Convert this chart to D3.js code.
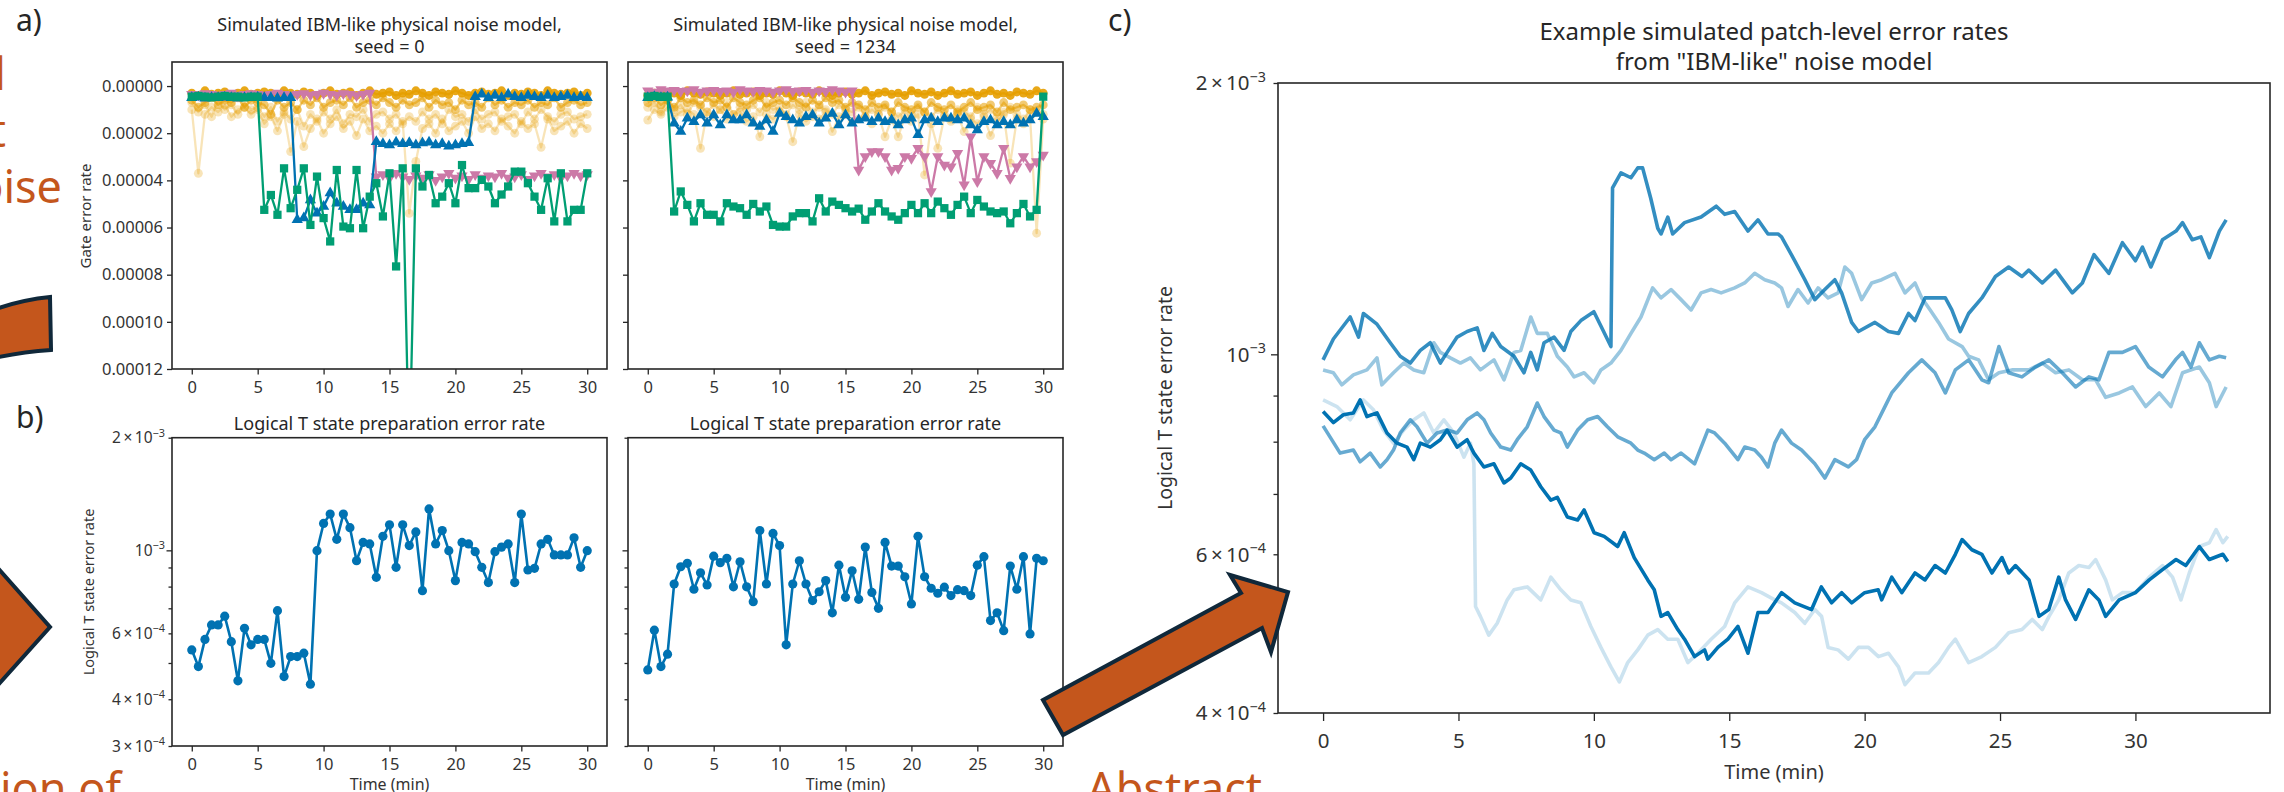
<!DOCTYPE html>
<html>
<head>
<meta charset="utf-8">
<script src="https://cdn.jsdelivr.net/npm/d3@7"></script>
<style>
  body { margin: 0; background: #fff; }
  svg { display: block; }
</style>
</head>
<body>
<svg id="fig" width="2284" height="792"></svg>
<script>
// ---- panel a : gate error rates (values in units of 1e-5) ----
var gateTime = [0,0.5,1,1.5,2,2.5,3,3.5,4,4.5,5,5.5,6,6.5,7,7.5,8,8.5,9,9.5,10,10.5,11,11.5,12,12.5,13,13.5,14,14.5,15,15.5,16,16.5,17,17.5,18,18.5,19,19.5,20,20.5,21,21.5,22,22.5,23,23.5,24,24.5,25,25.5,26,26.5,27,27.5,28,28.5,29,29.5,30];
var gateTicks = [0,2,4,6,8,10,12];

// seed = 0
var green0 = [0.45,0.42,0.45,0.48,0.45,0.42,0.45,0.45,0.48,0.45,0.45,
  5.25,4.62,5.46,3.49,5.18,4.40,3.49,5.89,3.84,5.60,
  6.59,3.56,5.96,6.03,3.56,6.03,4.69,4.12,5.53,3.70,
  7.65,3.49,16.0,3.49,4.26,3.77,4.97,4.69,4.12,4.97,
  3.35,4.33,4.33,3.98,4.26,4.97,4.60,4.26,3.63,3.63,
  4.12,4.69,5.25,3.91,5.74,3.70,5.74,5.25,5.25,3.70];
var blue0 = [0.5,0.48,0.52,0.5,0.5,0.48,0.5,0.52,0.5,0.5,0.48,0.5,0.5,0.52,0.5,0.5,
  5.67,5.6,4.83,5.39,5.11,4.54,4.97,5.11,5.25,5.25,4.97,5.04,
  2.36,2.45,2.5,2.38,2.45,2.4,2.5,2.42,2.38,2.5,2.45,2.55,2.5,2.45,2.4,
  0.45,0.35,0.5,0.4,0.5,0.35,0.45,0.5,0.4,0.45,0.5,0.4,0.5,0.45,0.4,0.5,0.45,0.5];
var pink0 = [0.35,0.38,0.32,0.35,0.4,0.35,0.3,0.38,0.35,0.32,0.35,0.38,0.35,0.3,0.35,0.4,0.35,0.32,0.38,0.35,0.3,0.35,0.38,0.32,0.35,0.4,0.35,0.3,
  3.85,3.75,3.9,3.7,3.85,3.95,3.8,3.9,3.75,4.0,3.85,3.7,3.9,3.8,3.95,3.75,3.9,3.8,3.85,3.7,3.9,3.85,3.75,3.95,3.8,3.7,3.85,3.75,3.9,3.8,3.7,3.8,3.75];
var orangeMain0 = [0.3,0.4,0.2,0.35,0.3,0.25,0.4,0.3,0.2,0.35,0.3,
  0.25,0.3,0.4,0.2,0.3,0.35,0.25,0.3,0.4,0.3,
  0.2,0.35,0.3,0.25,0.4,0.3,0.2,0.35,0.3,0.25,
  0.4,0.3,0.35,0.2,0.3,0.4,0.25,0.3,0.35,0.2,
  0.3,0.4,0.3,0.25,0.35,0.3,0.2,0.4,0.3,0.35,
  0.25,0.3,0.4,0.2,0.3,0.35,0.3,0.25,0.4,0.3];
var orangeMid0 = [0.6,0.9,0.7,0.5,0.8,0.6,0.7,0.5,0.9,0.6,0.7,
  0.8,1.2,0.6,0.9,0.7,1.0,0.6,0.8,0.5,0.9,
  0.7,0.6,0.8,0.5,0.9,0.7,0.6,0.8,0.5,0.7,
  0.9,0.6,0.8,0.7,0.5,0.9,0.6,0.8,0.7,1.0,
  0.6,0.8,0.7,0.9,0.5,0.8,0.6,0.9,0.7,0.8,
  0.6,0.9,0.7,0.8,0.5,0.9,0.7,0.6,0.8,0.7];
var orangeFaint0 = [1.0,3.7,1.2,0.9,1.1,0.8,1.3,1.0,0.9,1.2,1.0,
  1.6,1.3,1.9,1.2,2.78,1.5,2.57,1.8,1.4,2.0,
  1.6,1.3,1.8,1.5,2.1,1.4,1.9,1.7,2.0,1.6,
  1.9,1.5,5.4,3.2,1.8,1.6,2.0,1.4,1.9,1.7,
  1.5,2.0,1.3,1.8,1.6,1.9,1.4,1.7,2.0,1.5,
  1.8,1.6,2.6,1.4,1.9,1.7,1.5,2.0,1.6,1.8];
var orangeFaint0b = [0.7,1.1,0.8,1.3,0.6,1.0,0.8,1.2,0.7,1.0,0.9,
  1.3,0.9,1.5,1.1,1.4,1.0,1.7,1.2,1.5,1.1,
  1.4,1.0,1.6,1.2,1.3,1.0,1.5,1.2,1.1,1.4,
  1.2,1.6,1.3,1.5,1.1,1.4,1.2,1.6,1.0,1.3,
  1.2,1.5,1.0,1.4,1.2,1.1,1.5,1.3,1.2,1.6,
  1.1,1.4,1.0,1.3,1.5,1.2,1.1,1.4,1.3,1.2];

// seed = 1234
var green1234 = [0.45,0.42,0.45,0.45,
  5.32,4.47,5.04,5.74,4.97,5.46,5.46,5.74,4.97,5.11,
  5.18,5.46,5.0,5.32,5.11,5.89,5.96,5.96,5.53,5.39,
  5.39,5.74,4.76,5.32,4.90,5.04,5.18,5.32,5.2,5.67,
  5.32,4.97,5.32,5.53,5.67,5.39,5.04,5.39,4.97,5.39,
  4.90,5.18,5.46,5.04,4.69,5.39,4.83,5.11,5.32,5.39,
  5.32,5.82,5.39,5.0,5.53,5.25,
  0.45];
var blue1234 = [0.5,0.45,0.5,0.48,
  1.58,1.93,1.37,1.51,1.23,1.58,1.23,1.65,1.23,1.44,
  1.44,1.23,1.58,1.72,1.44,1.93,1.16,1.30,1.44,1.58,
  1.30,1.23,1.58,1.37,1.16,1.65,1.23,1.58,1.44,1.37,
  1.51,1.37,1.51,1.44,1.65,1.44,1.37,2.07,1.44,1.37,
  1.51,1.37,1.37,1.44,1.37,1.65,1.86,1.51,1.44,1.65,
  1.51,1.65,1.44,1.58,1.44,1.16,1.30];
var pink1234 = [0.2,0.25,0.15,0.2,0.18,0.22,0.2,0.15,0.25,0.2,0.18,0.22,0.2,0.25,0.15,0.2,0.22,0.18,0.2,0.25,0.2,0.15,0.22,0.2,0.18,0.25,0.2,0.22,0.15,0.2,0.25,0.2,
  3.56,2.99,2.78,2.78,2.99,3.56,3.49,2.99,3.06,2.64,
  2.99,4.47,2.99,3.35,3.42,2.85,4.19,2.15,4.05,2.99,
  3.27,3.70,2.64,3.91,3.42,2.99,3.42,3.2,2.92];
var orangeMain1234 = [0.4,0.3,0.25,0.35,0.3,0.4,0.2,0.3,0.35,0.25,0.3,
  0.4,0.3,0.2,0.35,0.3,0.25,0.4,0.3,0.35,0.2,
  0.3,0.4,0.25,0.3,0.35,0.2,0.3,0.4,0.3,0.25,
  0.35,0.3,0.2,0.4,0.3,0.25,0.35,0.3,0.4,0.2,
  0.3,0.35,0.25,0.4,0.3,0.2,0.35,0.3,0.25,0.4,
  0.3,0.2,0.35,0.3,0.4,0.25,0.3,0.35,0.2,0.3];
var orangeMid1234 = [0.7,0.5,0.8,0.6,0.9,0.5,0.7,0.6,0.8,0.5,0.7,
  0.6,0.9,0.5,0.7,0.8,0.6,0.5,0.9,0.7,0.6,
  0.8,0.5,0.7,0.9,0.6,0.8,0.5,0.7,0.6,0.9,
  0.7,0.8,1.0,0.7,0.9,0.8,1.1,0.7,0.9,1.0,
  0.8,1.1,0.7,0.9,1.0,0.8,1.1,0.9,0.7,1.0,
  0.9,0.8,1.1,0.7,1.0,0.9,0.8,1.0,0.9,0.8];
var orangeFaint1234 = [1.44,1.0,1.2,0.9,1.3,1.1,1.0,1.2,2.64,1.1,1.3,
  1.0,1.4,1.2,1.1,1.5,1.3,2.15,1.2,1.4,1.1,
  1.3,2.36,1.2,1.5,1.3,1.4,1.1,1.93,1.3,1.2,
  1.5,1.4,1.3,1.6,1.2,2.15,1.4,2.15,1.3,1.5,
  1.2,3.77,1.6,2.64,1.3,1.5,1.2,1.93,1.4,1.6,
  1.3,2.1,1.5,1.2,3.27,1.4,1.6,1.3,6.24,1.4];
var orangeFaint1234b = [0.9,0.7,1.1,0.6,1.0,0.8,1.2,0.7,0.9,1.1,0.8,
  1.0,0.7,1.2,0.9,1.0,0.8,1.1,0.7,1.0,0.9,
  1.2,0.8,1.0,0.7,1.1,0.9,1.0,1.2,0.8,1.0,
  1.1,0.9,1.3,1.0,1.2,0.9,1.1,1.3,1.0,1.2,
  0.9,1.1,1.3,1.0,1.2,1.4,1.0,1.1,1.3,0.9,
  1.2,1.0,1.3,1.1,0.9,1.2,1.4,1.0,1.1,1.2];

// ---- panel b : logical T state error rate (units of 1e-4) ----
var tState0 = [5.42,4.89,5.78,6.32,6.32,6.67,5.70,4.48,6.19,5.59,
  5.78,5.78,4.99,6.90,4.60,5.20,5.20,5.31,4.39,9.98,
  11.8,12.5,10.7,12.5,11.5,9.38,10.5,10.4,8.47,10.9,
  11.7,9.01,11.7,10.3,11.2,7.80,12.9,10.4,11.3,9.98,
  8.30,10.5,10.4,9.92,9.01,8.20,9.92,10.2,10.4,8.20,
  12.5,8.86,8.95,10.4,10.7,9.72,9.72,9.72,10.8,9.01,
  9.98];
var tState1234 = [4.79,6.12,4.89,5.28,8.13,9.04,9.23,7.87,8.71,8.08,
  9.65,9.27,9.52,7.99,9.32,7.99,7.29,11.3,8.13,11.1,
  10.3,5.59,8.13,9.38,8.13,7.34,7.75,8.30,6.81,9.13,
  7.49,8.82,7.40,10.2,7.72,7.00,10.5,9.08,9.08,8.50,
  7.19,10.9,8.50,7.92,7.68,7.97,7.57,7.85,7.80,7.57,
  9.13,9.62,6.49,6.81,6.10,9.08,7.87,9.62,5.98,9.52,
  9.38];

// ---- panel c : patch-level error rates (units of 1e-4) ----
var patch1Time = [0,0.38,1.0,1.31,1.49,1.99,2.48,2.85,3.22,3.59,3.96,4.33,4.58,4.95,5.32,5.69,5.94,6.25,6.56,7.05,7.42,7.67,7.91,8.16,8.53,8.9,9.15,9.52,10.0,10.26,10.63,10.69,11.0,11.37,11.62,11.8,12.1,12.36,12.48,12.73,12.91,13.35,13.96,14.52,14.83,15.2,15.69,16.06,16.43,16.8,16.93,17.42,17.79,18.16,18.53,18.9,19.15,19.52,19.77,20.38,20.88,21.25,21.62,21.86,22.23,22.98,23.22,23.53,23.84,24.33,24.83,25.32,25.81,26.06,26.56,27.05,27.67,28.04,28.47,29.02,29.52,30.0,30.26,30.57,31.0,31.5,31.74,32.1,32.42,32.73,33.1,33.35];
var patch1Rate = [9.86,10.4,11.0,10.45,11.1,10.8,10.3,9.95,9.78,10.1,10.3,9.78,10.05,10.45,10.6,10.7,10.1,10.55,10.2,9.95,9.54,10.05,9.61,10.3,10.45,10.1,10.6,10.9,11.15,10.75,10.2,15.3,15.9,15.7,16.1,16.1,14.9,13.8,13.6,14.2,13.6,14.0,14.2,14.6,14.3,14.4,13.7,14.1,13.6,13.6,13.5,12.7,12.1,11.5,11.8,12.1,11.7,10.85,10.6,10.85,10.6,10.55,11.1,10.9,11.55,11.55,11.2,10.6,11.1,11.55,12.2,12.5,12.2,12.4,12.0,12.4,11.7,12.0,12.9,12.3,13.3,12.7,13.15,12.5,13.4,13.7,14.0,13.4,13.5,12.8,13.7,14.1];
var patch2Time = [0,0.38,0.69,1.12,1.62,1.99,2.17,2.6,2.98,3.35,3.72,4.09,4.33,4.7,5.07,5.44,5.81,6.31,6.68,7.05,7.3,7.67,7.91,8.28,8.65,9.02,9.27,9.64,10.0,10.26,10.63,11.0,11.37,11.74,12.17,12.48,12.85,13.22,13.59,13.96,14.33,14.7,15.2,15.57,15.94,16.31,16.68,16.93,17.17,17.54,17.91,18.28,18.65,19.02,19.27,19.52,19.89,20.26,20.63,21.12,21.49,21.86,22.11,22.42,22.73,23.1,23.6,23.84,24.21,24.58,24.96,25.44,26.07,26.56,27.05,27.54,28.04,28.53,28.9,29.4,29.89,30.38,30.88,31.31,31.74,32.36,32.73,32.98,33.35];
var patch2Rate = [9.61,9.54,9.25,9.49,9.61,9.91,9.25,9.54,9.78,9.61,9.54,10.3,10.05,9.91,9.78,9.91,9.61,9.86,9.37,10.05,10.1,11.0,10.55,10.55,9.95,9.68,9.44,9.54,9.3,9.61,9.78,10.1,10.55,11.0,11.85,11.55,11.8,11.5,11.2,11.7,11.8,11.7,11.85,12.0,12.3,12.1,12.0,11.85,11.3,11.8,11.4,11.85,11.55,11.7,12.5,12.3,11.5,12.0,12.1,12.3,11.7,12.0,11.55,11.2,10.85,10.4,10.2,9.95,9.86,9.37,9.54,9.61,9.61,9.78,9.54,9.61,9.37,9.37,8.96,9.06,9.2,8.75,9.06,8.75,9.54,9.68,9.3,8.75,9.2];
var patch3Time = [0,0.63,1.12,1.37,1.74,2.11,2.36,2.6,2.85,3.22,3.47,3.84,4.21,4.58,4.95,5.32,5.69,5.94,6.19,6.56,6.93,7.17,7.54,7.91,8.16,8.53,8.78,9.02,9.4,9.77,10.14,10.5,10.88,11.37,11.62,11.86,12.23,12.6,12.85,13.22,13.72,14.21,14.46,14.83,15.32,15.57,15.94,16.19,16.43,16.68,16.93,17.3,17.67,18.16,18.53,18.9,19.4,19.7,20.0,20.38,20.75,21.0,21.62,22.11,22.6,22.98,23.35,23.84,24.33,24.58,24.96,25.32,25.81,26.31,26.8,27.3,27.79,28.28,28.65,29.02,29.52,30.0,30.49,31.0,31.48,31.74,32.05,32.36,32.73,33.1,33.35];
var patch3Rate = [8.33,7.77,7.83,7.6,7.77,7.5,7.64,7.83,8.18,8.46,8.31,7.97,8.18,8.24,8.18,8.46,8.61,8.46,8.18,7.89,7.83,8.04,8.31,8.83,8.53,8.24,8.18,7.89,8.24,8.46,8.53,8.31,8.1,7.97,7.83,7.77,7.64,7.77,7.64,7.77,7.56,8.24,8.18,7.97,7.64,7.89,7.83,7.69,7.5,7.97,8.24,7.97,7.83,7.56,7.29,7.64,7.5,7.64,8.04,8.31,8.75,9.06,9.54,9.86,9.54,9.06,9.61,9.86,9.37,9.3,10.2,9.54,9.44,9.68,9.86,9.54,9.2,9.44,9.37,10.05,10.05,10.2,9.68,9.44,9.86,10.05,9.68,10.3,9.86,9.95,9.91];
var patch4Time = [0,0.38,0.75,1.12,1.37,1.62,1.99,2.36,2.73,3.1,3.35,3.59,3.96,4.33,4.58,4.95,5.32,5.57,5.94,6.31,6.68,6.93,7.3,7.67,8.04,8.41,8.65,9.02,9.4,9.64,10.01,10.38,10.88,11.12,11.49,11.99,12.23,12.48,12.73,13.1,13.35,13.72,14.09,14.21,14.58,14.95,15.32,15.69,16.06,16.43,16.93,17.42,18.04,18.4,18.78,19.15,19.52,20.0,20.5,20.63,21.0,21.37,21.86,22.23,22.6,22.98,23.35,23.6,23.96,24.33,24.7,25.07,25.32,25.57,26.07,26.44,26.8,27.17,27.42,27.79,28.28,28.65,28.9,29.4,30.0,30.51,31.0,31.5,31.86,32.36,32.73,33.23,33.41];
var patch4Rate = [8.64,8.4,8.57,8.61,8.9,8.53,8.61,8.18,7.97,7.89,7.64,7.97,7.89,8.04,8.24,7.89,8.04,7.77,7.5,7.56,7.2,7.29,7.56,7.44,7.13,6.89,6.94,6.6,6.55,6.72,6.34,6.28,6.12,6.34,5.95,5.62,5.48,5.12,5.17,4.95,4.83,4.62,4.7,4.59,4.73,4.83,4.99,4.66,5.17,5.17,5.44,5.3,5.21,5.52,5.3,5.44,5.3,5.44,5.48,5.34,5.66,5.44,5.72,5.62,5.83,5.72,6.0,6.23,6.07,6.0,5.72,5.95,5.72,5.83,5.62,5.12,5.21,5.66,5.34,5.08,5.48,5.34,5.12,5.34,5.44,5.62,5.77,5.92,5.83,6.12,5.92,6.0,5.89];
var patch5Time = [0,0.51,1.0,1.49,1.86,2.23,2.6,2.98,3.35,3.72,4.09,4.46,4.83,5.2,5.44,5.57,5.63,5.81,6.12,6.43,6.8,7.05,7.54,8.04,8.41,8.78,9.15,9.52,9.89,10.26,10.63,10.94,11.25,11.62,11.99,12.36,12.73,13.1,13.47,13.84,14.33,14.83,15.2,15.69,16.19,16.68,16.93,17.42,17.79,18.16,18.41,18.65,19.02,19.4,19.77,20.14,20.51,20.88,21.25,21.49,21.86,22.36,22.73,23.1,23.35,23.84,24.33,24.83,25.32,25.81,26.19,26.56,26.81,27.17,27.54,27.91,28.28,28.53,28.9,29.15,29.52,30.0,30.51,31.0,31.37,31.68,31.99,32.36,32.73,32.98,33.23,33.41];
var patch5Rate = [8.9,8.75,8.46,8.9,8.68,8.24,7.97,8.24,8.46,8.61,8.18,8.46,8.18,7.69,7.97,7.56,5.25,5.12,4.88,5.03,5.34,5.48,5.52,5.34,5.66,5.48,5.34,5.3,4.99,4.73,4.5,4.33,4.55,4.7,4.88,4.95,4.83,4.83,4.55,4.66,4.83,4.99,5.3,5.52,5.44,5.34,5.3,5.17,5.03,5.21,5.12,4.73,4.7,4.59,4.73,4.73,4.62,4.66,4.5,4.3,4.43,4.43,4.55,4.73,4.83,4.55,4.62,4.73,4.91,4.95,5.08,4.95,5.12,5.34,5.72,5.83,5.8,5.92,5.62,5.34,5.44,5.44,5.66,5.83,5.66,5.34,5.72,6.12,6.18,6.39,6.18,6.28];

var timeTicks = [0,5,10,15,20,25,30];

var FONT = '"Noto Sans", "Open Sans", sans-serif';
var INK = "#262626";
var ORANGE = "#E69F00", BLUE = "#0072B2", PINK = "#CC79A7", GREEN = "#009E73";
var SLIDE = "#C4561C", NAVY = "#10283a";

var svg = d3.select("#fig").attr("font-family", FONT);
svg.append("rect").attr("width", 2284).attr("height", 792).attr("fill", "#fff");

function styleAxis(g, size) {
  g.select(".domain").remove();
  g.selectAll(".tick line").attr("stroke", INK).attr("stroke-width", 1.3);
  g.selectAll(".tick text").attr("fill", "#333").attr("font-size", size).attr("font-family", FONT);
}

function drawFrame(g, b) {
  g.append("rect")
    .attr("x", b.x0).attr("y", b.y0)
    .attr("width", b.x1 - b.x0).attr("height", b.y1 - b.y0)
    .attr("fill", "none").attr("stroke", INK).attr("stroke-width", 1.6);
}

function clipFor(id, b) {
  svg.append("clipPath").attr("id", id).append("rect")
    .attr("x", b.x0).attr("y", b.y0)
    .attr("width", b.x1 - b.x0).attr("height", b.y1 - b.y0);
  return "url(#" + id + ")";
}

function sciLabel(text, v, size) {
  var e = Math.floor(Math.log10(v) + 1e-9);
  var m = Math.round(v / Math.pow(10, e));
  text.append("tspan").text((m === 1 ? "" : m + "\u2009\u00d7\u2009") + "10");
  text.append("tspan").attr("dy", -0.42 * size).attr("font-size", size * 0.7).text("\u2212" + Math.abs(e));
}

// ---------- panel a ----------
function gatePanel(id, b, title, showLabels, s) {
  var x = d3.scaleLinear().domain([-1.5, 31.5]).range([b.x0, b.x1]);
  var y = d3.scaleLinear().domain([-1.02, 12]).range([b.y0, b.y1]);
  var g = svg.append("g");
  var plot = g.append("g").attr("clip-path", clipFor(id, b));

  var series = [
    {v: s.faintB, c: ORANGE, a: 0.28, shape: d3.symbolCircle, size: 62},
    {v: s.faint, c: ORANGE, a: 0.28, shape: d3.symbolCircle, size: 62},
    {v: s.mid, c: ORANGE, a: 0.55, shape: d3.symbolCircle, size: 62},
    {v: s.main, c: ORANGE, a: 0.9, shape: d3.symbolCircle, size: 62},
    {v: s.pink, c: PINK, a: 1, shape: d3.symbolTriangle, size: 55, down: true},
    {v: s.blue, c: BLUE, a: 1, shape: d3.symbolTriangle, size: 55},
    {v: s.green, c: GREEN, a: 1, shape: d3.symbolSquare, size: 68}
  ];
  var line = d3.line().x(function(d){ return x(d[0]); }).y(function(d){ return y(d[1]); });
  series.forEach(function(ser) {
    var pts = gateTime.map(function(t, i){ return [t, ser.v[i]]; });
    plot.append("path").datum(pts).attr("d", line)
      .attr("fill", "none").attr("stroke", ser.c).attr("stroke-width", 2.3)
      .attr("stroke-opacity", ser.a).attr("stroke-linejoin", "round");
    plot.selectAll(null).data(pts).enter().append("path")
      .attr("transform", function(d){ return "translate(" + x(d[0]) + "," + y(d[1]) + ")" + (ser.down ? " rotate(180)" : ""); })
      .attr("d", d3.symbol().type(ser.shape).size(ser.size))
      .attr("fill", ser.c).attr("fill-opacity", ser.a);
  });

  g.append("g").attr("transform", "translate(0," + b.y1 + ")")
    .call(d3.axisBottom(x).tickValues(timeTicks).tickSize(5.5).tickPadding(7))
    .call(styleAxis, 16.5);
  g.append("g").attr("transform", "translate(" + b.x0 + ",0)")
    .call(d3.axisLeft(y).tickValues(gateTicks).tickSize(5).tickPadding(4)
      .tickFormat(function(v){ return showLabels ? d3.format(".5f")(v * 1e-5) : ""; }))
    .call(styleAxis, 16.5);
  drawFrame(g, b);

  var cx = (b.x0 + b.x1) / 2;
  g.append("text").attr("x", cx).attr("y", 31).attr("text-anchor", "middle")
    .attr("font-size", 18).attr("fill", INK).text(title[0]);
  g.append("text").attr("x", cx).attr("y", 53).attr("text-anchor", "middle")
    .attr("font-size", 18).attr("fill", INK).text(title[1]);
  if (showLabels) {
    g.append("text").attr("transform", "translate(91,216) rotate(-90)")
      .attr("text-anchor", "middle").attr("font-size", 15).attr("fill", "#333")
      .text("Gate error rate");
  }
}

gatePanel("clipA0", {x0: 172, x1: 607, y0: 62, y1: 369},
  ["Simulated IBM-like physical noise model,", "seed = 0"], true,
  {green: green0, blue: blue0, pink: pink0, main: orangeMain0, mid: orangeMid0, faint: orangeFaint0, faintB: orangeFaint0b});
gatePanel("clipA1", {x0: 628, x1: 1063, y0: 62, y1: 369},
  ["Simulated IBM-like physical noise model,", "seed = 1234"], false,
  {green: green1234, blue: blue1234, pink: pink1234, main: orangeMain1234, mid: orangeMid1234, faint: orangeFaint1234, faintB: orangeFaint1234b});

// ---------- log axis helpers ----------
function logAxis(g, b, y, major, minor, labelled, showLabels, size, majLen, minLen, gap) {
  g.append("g").attr("transform", "translate(" + b.x0 + ",0)")
    .call(d3.axisLeft(y).tickValues(major).tickSize(majLen).tickFormat(function(){ return ""; }))
    .call(styleAxis, size);
  g.append("g").attr("transform", "translate(" + b.x0 + ",0)")
    .call(d3.axisLeft(y).tickValues(minor).tickSize(minLen).tickFormat(function(){ return ""; }))
    .call(styleAxis, size);
  if (!showLabels) return;
  labelled.forEach(function(v) {
    var t = g.append("text").attr("x", b.x0 - gap).attr("y", y(v) + size * 0.36)
      .attr("text-anchor", "end").attr("font-size", size).attr("fill", "#333");
    sciLabel(t, v, size);
  });
}

// ---------- panel b ----------
function tPanel(id, b, vals, showLabels) {
  var x = d3.scaleLinear().domain([-1.5, 31.5]).range([b.x0, b.x1]);
  var y = d3.scaleLog().domain([3e-4, 2e-3]).range([b.y1, b.y0]);
  var g = svg.append("g");
  var plot = g.append("g").attr("clip-path", clipFor(id, b));
  var pts = gateTime.map(function(t, i){ return [t, vals[i] * 1e-4]; });
  plot.append("path").datum(pts)
    .attr("d", d3.line().x(function(d){ return x(d[0]); }).y(function(d){ return y(d[1]); }))
    .attr("fill", "none").attr("stroke", BLUE).attr("stroke-width", 2.6).attr("stroke-linejoin", "round");
  plot.selectAll(null).data(pts).enter().append("circle")
    .attr("cx", function(d){ return x(d[0]); }).attr("cy", function(d){ return y(d[1]); })
    .attr("r", 4.6).attr("fill", BLUE);

  g.append("g").attr("transform", "translate(0," + b.y1 + ")")
    .call(d3.axisBottom(x).tickValues(timeTicks).tickSize(5.5).tickPadding(7))
    .call(styleAxis, 16.5);
  logAxis(g, b, y, [1e-3], [3e-4, 4e-4, 5e-4, 6e-4, 7e-4, 8e-4, 9e-4, 2e-3],
    [3e-4, 4e-4, 6e-4, 1e-3, 2e-3], showLabels, 15.5, 5.5, 3.5, 7);
  drawFrame(g, b);

  var cx = (b.x0 + b.x1) / 2;
  g.append("text").attr("x", cx).attr("y", 430).attr("text-anchor", "middle")
    .attr("font-size", 18).attr("fill", INK).text("Logical T state preparation error rate");
  g.append("text").attr("x", cx).attr("y", 790).attr("text-anchor", "middle")
    .attr("font-size", 16).attr("fill", "#333").text("Time (min)");
  if (showLabels) {
    g.append("text").attr("transform", "translate(94,592) rotate(-90)")
      .attr("text-anchor", "middle").attr("font-size", 14.5).attr("fill", "#333")
      .text("Logical T state error rate");
  }
}

tPanel("clipB0", {x0: 172, x1: 607, y0: 437.7, y1: 746}, tState0, true);
tPanel("clipB1", {x0: 628, x1: 1063, y0: 437.7, y1: 746}, tState1234, false);

// ---------- panel c ----------
(function() {
  var b = {x0: 1278, x1: 2270, y0: 83, y1: 713};
  var x = d3.scaleLinear().domain([-1.665, 34.97]).range([b.x0, b.x1]);
  var y = d3.scaleLog().domain([4e-4, 2e-3]).range([b.y1, b.y0]);
  var g = svg.append("g");
  var plot = g.append("g").attr("clip-path", clipFor("clipC", b));
  var patches = [
    {t: patch5Time, r: patch5Rate, a: 0.2},
    {t: patch2Time, r: patch2Rate, a: 0.4},
    {t: patch3Time, r: patch3Rate, a: 0.6},
    {t: patch1Time, r: patch1Rate, a: 0.8},
    {t: patch4Time, r: patch4Rate, a: 1.0}
  ];
  var line = d3.line().x(function(d){ return x(d[0]); }).y(function(d){ return y(d[1]); });
  patches.forEach(function(p) {
    var pts = p.t.map(function(t, i){ return [t, p.r[i] * 1e-4]; });
    plot.append("path").datum(pts).attr("d", line)
      .attr("fill", "none").attr("stroke", BLUE).attr("stroke-opacity", p.a)
      .attr("stroke-width", 3.6).attr("stroke-linejoin", "round");
  });

  g.append("g").attr("transform", "translate(0," + b.y1 + ")")
    .call(d3.axisBottom(x).tickValues(timeTicks).tickSize(8).tickPadding(12))
    .call(styleAxis, 20.5);
  logAxis(g, b, y, [1e-3], [4e-4, 5e-4, 6e-4, 7e-4, 8e-4, 9e-4, 2e-3],
    [4e-4, 6e-4, 1e-3, 2e-3], true, 20.5, 7, 4.5, 12);
  drawFrame(g, b);

  var cx = (b.x0 + b.x1) / 2;
  g.append("text").attr("x", cx).attr("y", 40).attr("text-anchor", "middle")
    .attr("font-size", 24).attr("fill", INK).text("Example simulated patch-level error rates");
  g.append("text").attr("x", cx).attr("y", 70).attr("text-anchor", "middle")
    .attr("font-size", 24).attr("fill", INK).text("from \"IBM-like\" noise model");
  g.append("text").attr("x", cx).attr("y", 779).attr("text-anchor", "middle")
    .attr("font-size", 20).attr("fill", "#333").text("Time (min)");
  g.append("text").attr("transform", "translate(1172,398) rotate(-90)")
    .attr("text-anchor", "middle").attr("font-size", 19.5).attr("fill", "#333")
    .text("Logical T state error rate");
})();

// ---------- panel letters ----------
[["a)", 16, 31], ["b)", 16, 428], ["c)", 1108, 31]].forEach(function(p) {
  svg.append("text").attr("x", p[1]).attr("y", p[2]).attr("font-size", 30)
    .attr("fill", INK).text(p[0]);
});

// ---------- slide fragments around the figure ----------
var slide = svg.append("g").attr("fill", SLIDE).attr("font-size", 45);
slide.append("text").attr("x", 6).attr("y", 90).attr("text-anchor", "end").text("Simulated");
slide.append("text").attr("x", 6).attr("y", 147).attr("text-anchor", "end").text("input");
slide.append("text").attr("x", 62).attr("y", 203).attr("text-anchor", "end").text("noise");
slide.append("text").attr("x", 121).attr("y", 805).attr("text-anchor", "end").text("Propagation of");
slide.append("text").attr("x", 1087).attr("y", 805).text("Abstract");

var arrows = svg.append("g").attr("fill", SLIDE).attr("stroke", NAVY)
  .attr("stroke-width", 4).attr("stroke-linejoin", "miter");
arrows.append("path").attr("d", "M -10 311 Q 20 300 50 297 L 51 350 Q 20 352 -10 359 Z");
arrows.append("path").attr("d", "M -20 548 L 50 627 L -20 705 Z");
arrows.append("path").attr("d",
  "M 1043 700 L 1241 593 L 1230 575 L 1288 592 L 1271 652 L 1262 628 L 1063 735 Z");
</script>
</body>
</html>
